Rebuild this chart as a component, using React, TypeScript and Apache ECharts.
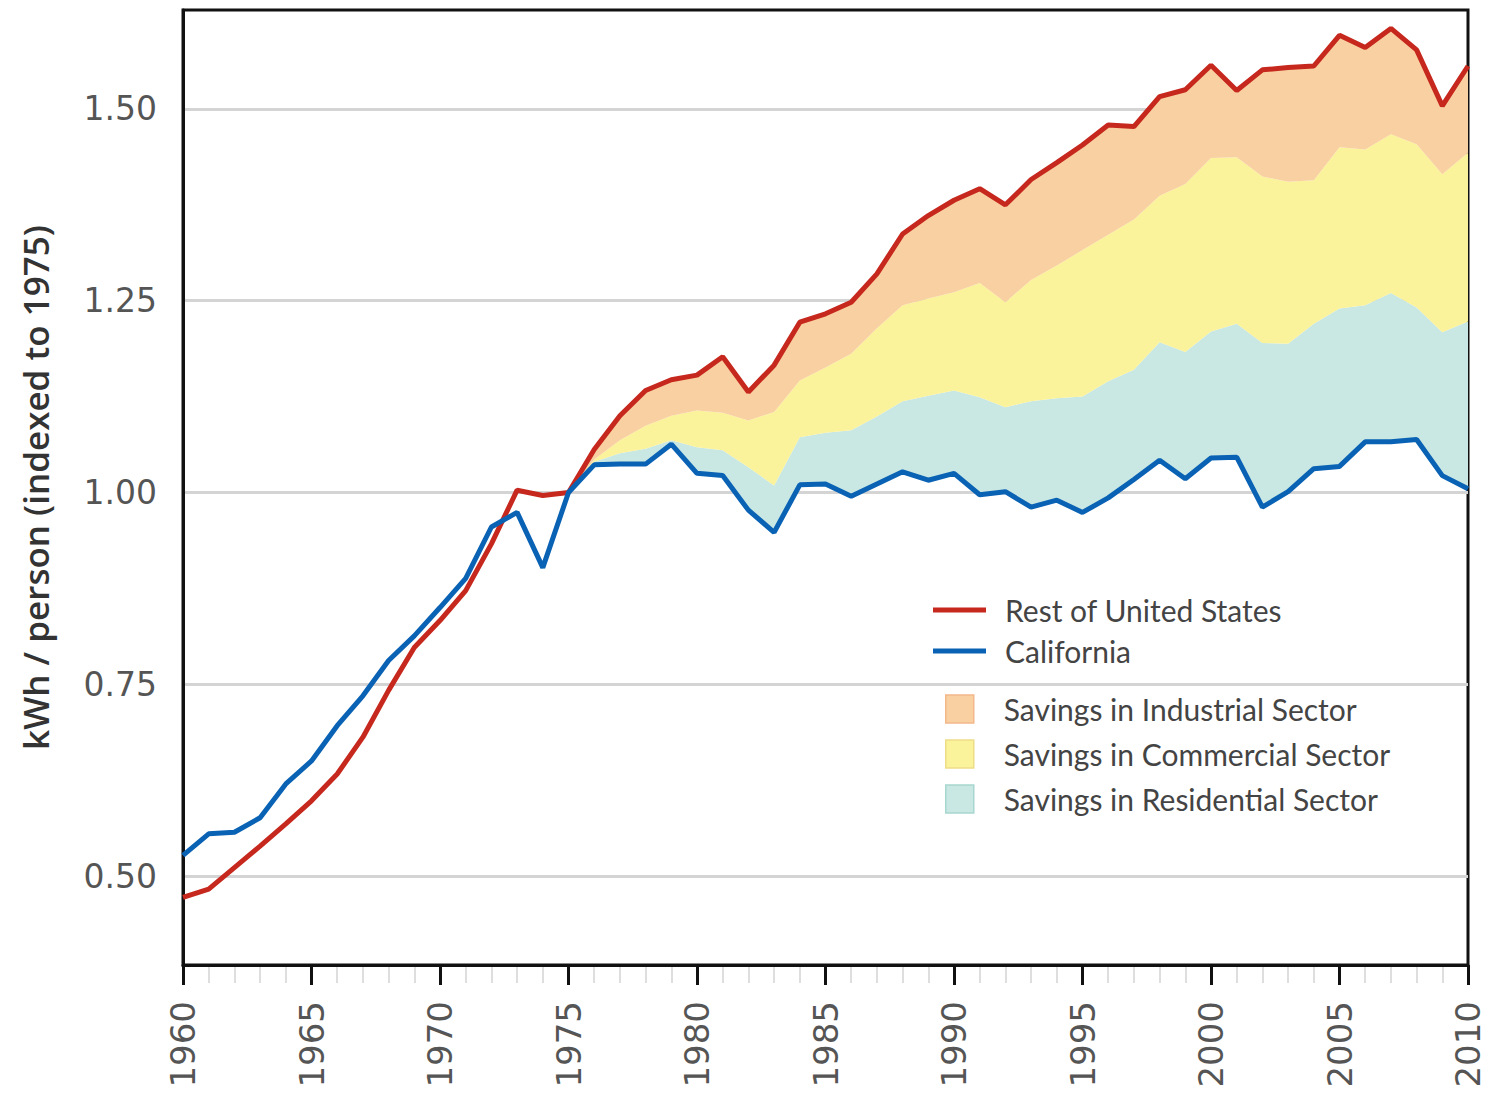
import React, { useEffect, useRef } from 'react';
import * as echarts from 'echarts';

const years = [
  '1960', '1961', '1962', '1963', '1964', '1965', '1966', '1967', '1968', '1969',
  '1970', '1971', '1972', '1973', '1974', '1975', '1976', '1977', '1978', '1979',
  '1980', '1981', '1982', '1983', '1984', '1985', '1986', '1987', '1988', '1989',
  '1990', '1991', '1992', '1993', '1994', '1995', '1996', '1997', '1998', '1999',
  '2000', '2001', '2002', '2003', '2004', '2005', '2006', '2007', '2008', '2009', '2010',
];

const restOfUS = [
  0.472, 0.483, 0.511, 0.539, 0.568, 0.598, 0.633, 0.681, 0.742, 0.798,
  0.833, 0.872, 0.933, 1.003, 0.996, 1.0, 1.056, 1.1, 1.133, 1.147,
  1.153, 1.177, 1.131, 1.166, 1.222, 1.233, 1.248, 1.285, 1.337, 1.361,
  1.381, 1.396, 1.375, 1.408, 1.43, 1.453, 1.479, 1.477, 1.516, 1.525,
  1.557, 1.524, 1.551, 1.554, 1.556, 1.596, 1.58, 1.605, 1.577, 1.504, 1.556,
];

const california = [
  0.527, 0.555, 0.557, 0.576, 0.62, 0.65, 0.696, 0.735, 0.781, 0.813,
  0.85, 0.888, 0.955, 0.974, 0.902, 1.0, 1.036, 1.037, 1.037, 1.063,
  1.025, 1.022, 0.977, 0.948, 1.01, 1.011, 0.995, 1.011, 1.027, 1.016,
  1.025, 0.997, 1.001, 0.981, 0.99, 0.974, 0.993, 1.017, 1.042, 1.018,
  1.045, 1.046, 0.981, 1.001, 1.031, 1.034, 1.066, 1.066, 1.069, 1.022, 1.005,
];

// Upper edge of the residential-savings band (null before 1975)
const residentialTop = [
  null, null, null, null, null, null, null, null, null, null,
  null, null, null, null, null, 1.0, 1.04, 1.051, 1.057, 1.068,
  1.059, 1.055, 1.033, 1.009, 1.072, 1.078, 1.081, 1.099, 1.119, 1.126,
  1.133, 1.124, 1.111, 1.119, 1.123, 1.125, 1.145, 1.16, 1.196, 1.183,
  1.21, 1.22, 1.195, 1.194, 1.22, 1.24, 1.244, 1.26, 1.241, 1.209, 1.223,
];

// Upper edge of the commercial-savings band (null before 1975)
const commercialTop = [
  null, null, null, null, null, null, null, null, null, null,
  null, null, null, null, null, 1.0, 1.043, 1.068, 1.087, 1.1,
  1.107, 1.104, 1.094, 1.105, 1.146, 1.163, 1.181, 1.214, 1.244, 1.253,
  1.261, 1.273, 1.248, 1.277, 1.296, 1.316, 1.336, 1.356, 1.387, 1.402,
  1.436, 1.437, 1.412, 1.405, 1.407, 1.45, 1.447, 1.467, 1.454, 1.415, 1.443,
];

const yTicks = [0.5, 0.75, 1.0, 1.25, 1.5];

const RED = '#c6281e';
const BLUE = '#0a62b4';
const ORANGE = '#f9d0a1';
const YELLOW = '#fbf29c';
const CYAN = '#c9e8e3';

export default function App() {
  const ref = useRef<HTMLDivElement>(null);

  useEffect(() => {
    document.body.style.margin = '0';
    const chart = echarts.init(ref.current as HTMLDivElement, null, { renderer: 'svg' });

    const r4 = (v: number) => Math.round(v * 10000) / 10000;
    const baseData = years.map((_, i) => (residentialTop[i] == null ? '-' : california[i]));
    const resDelta = years.map((_, i) =>
      residentialTop[i] == null ? '-' : r4((residentialTop[i] as number) - california[i])
    );
    const comDelta = years.map((_, i) =>
      commercialTop[i] == null ? '-' : r4((commercialTop[i] as number) - (residentialTop[i] as number))
    );
    const indDelta = years.map((_, i) =>
      commercialTop[i] == null ? '-' : r4(restOfUS[i] - (commercialTop[i] as number))
    );

    const areaSeries = (name: string, color: string, data: any[]) => ({
      name,
      type: 'line',
      stack: 'savings',
      data,
      symbol: 'none',
      color,
      lineStyle: { width: 0, opacity: 0 },
      areaStyle: { color, opacity: 1 },
      silent: true,
      z: 2,
    });

    const legendText = {
      fontFamily: 'Lato',
      fontSize: 30,
      color: '#444444',
      lineHeight: 30,
    };

    const option: any = {
      animation: false,
      backgroundColor: '#ffffff',
      grid: {
        left: 183,
        right: 20,
        top: 10,
        bottom: 129,
        show: true,
        borderColor: '#111111',
        borderWidth: 3,
        backgroundColor: 'transparent',
      },
      legend: [
        {
          data: ['Rest of United States', 'California'],
          orient: 'vertical',
          left: 928,
          top: 590,
          icon: 'rect',
          itemWidth: 53,
          itemHeight: 5,
          itemGap: 11,
          textStyle: { ...legendText, padding: [0, 0, 0, 14] },
        },
        {
          data: [
            { name: 'Savings in Industrial Sector', itemStyle: { borderColor: '#f2b88a', borderWidth: 1.5 } },
            { name: 'Savings in Commercial Sector', itemStyle: { borderColor: '#eedd88', borderWidth: 1.5 } },
            { name: 'Savings in Residential Sector', itemStyle: { borderColor: '#a8d6d0', borderWidth: 1.5 } },
          ],
          orient: 'vertical',
          left: 940,
          top: 689,
          icon: 'rect',
          itemWidth: 28,
          itemHeight: 28,
          itemGap: 15,
          textStyle: { ...legendText, padding: [0, 0, 0, 25] },
        },
      ],
      xAxis: [
        {
          type: 'category',
          data: years,
          boundaryGap: false,
          position: 'bottom',
          axisLine: { show: true, lineStyle: { color: '#111111', width: 3 } },
          axisTick: {
            show: true,
            interval: 4,
            length: 20,
            lineStyle: { color: '#111111', width: 3 },
          },
          axisLabel: {
            interval: 4,
            rotate: 90,
            margin: 36,
            fontFamily: 'DejaVu Sans',
            fontSize: 34,
            color: '#555555',
          },
          splitLine: { show: false },
          z: 5,
        },
        {
          type: 'category',
          data: years,
          boundaryGap: false,
          position: 'bottom',
          axisLine: { show: false },
          axisTick: {
            show: true,
            interval: (index: number) => index % 5 !== 0,
            length: 18,
            lineStyle: { color: '#dedede', width: 2 },
          },
          axisLabel: { show: false },
          splitLine: { show: false },
        },
      ],
      yAxis: {
        type: 'value',
        min: 0.384,
        max: 1.629,
        name: 'kWh / person (indexed to 1975)',
        nameLocation: 'middle',
        nameGap: 130,
        nameRotate: 90,
        nameTextStyle: {
          fontFamily: 'Open Sans',
          fontWeight: 600,
          fontSize: 35,
          color: '#333333',
        },
        axisLine: { show: true, lineStyle: { color: '#111111', width: 3 } },
        axisTick: { show: false, customValues: yTicks },
        axisLabel: {
          customValues: yTicks,
          formatter: (v: number) => v.toFixed(2),
          margin: 26,
          fontFamily: 'DejaVu Sans',
          fontSize: 33,
          color: '#555555',
        },
        splitLine: { show: true, lineStyle: { color: '#d4d4d4', width: 3 } },
      },
      series: [
        {
          name: 'base',
          type: 'line',
          stack: 'savings',
          data: baseData,
          symbol: 'none',
          lineStyle: { width: 0, opacity: 0 },
          silent: true,
          z: 2,
        },
        areaSeries('Savings in Residential Sector', CYAN, resDelta),
        areaSeries('Savings in Commercial Sector', YELLOW, comDelta),
        areaSeries('Savings in Industrial Sector', ORANGE, indDelta),
        {
          name: 'Rest of United States',
          type: 'line',
          data: restOfUS,
          symbol: 'none',
          color: RED,
          lineStyle: { color: RED, width: 5 },
          z: 4,
        },
        {
          name: 'California',
          type: 'line',
          data: california,
          symbol: 'none',
          color: BLUE,
          lineStyle: { color: BLUE, width: 5 },
          z: 5,
        },
      ],
    };

    chart.setOption(option);
    return () => chart.dispose();
  }, []);

  return <div ref={ref} style={{ width: 1488, height: 1094 }} />;
}
